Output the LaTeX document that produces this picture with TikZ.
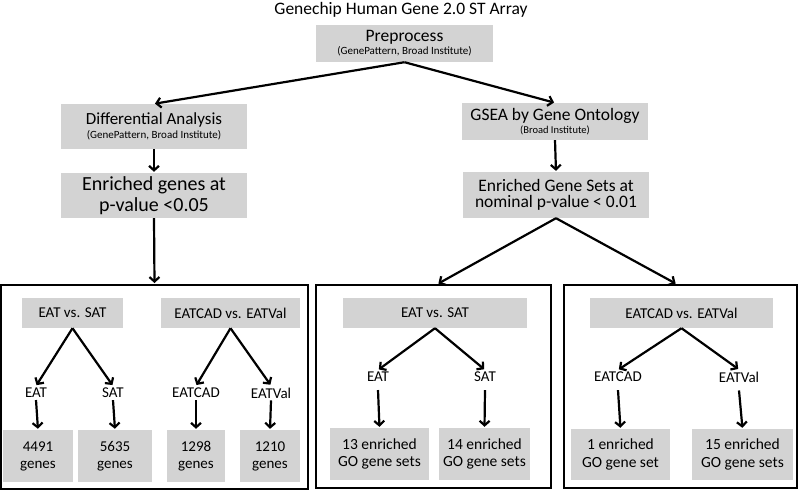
\documentclass[tikz,border=0pt]{standalone}
\usepackage{fontspec}
\setmainfont{Carlito}
\usetikzlibrary{arrows.meta}

\definecolor{boxgray}{RGB}{211,211,211}
\newcommand{\fs}[1]{\fontsize{#1}{#1}\selectfont}

\tikzset{
    graybox/.style={fill=boxgray, align=center, inner sep=0pt},
    bigframe/.style={draw, line width=2pt, inner sep=0pt},
    leaf/.style={inner sep=2pt, font=\fs{15}},
    link/.style={line width=2.2pt, shorten >=1pt, -{Straight Barb[length=4.5pt,width=10pt]}}
}

\begin{document}
\begin{tikzpicture}[x=1pt,y=-1pt]
    \useasboundingbox (0,0) rectangle (800,491);

    \node (title) at (401,10) {\fs{17.5}Genechip Human Gene 2.0 ST Array};
    \node[graybox, minimum width=177pt, minimum height=37pt] (pre) at (404.5,43.5)
        {\fs{17.5}Preprocess\\[1pt]\fs{11}(GenePattern, Broad Institute)};

    % left branch
    \node[graybox, minimum width=186pt, minimum height=45pt] (diff) at (154,126.5)
        {\fs{17}Differential Analysis\\[2pt]\fs{11}(GenePattern, Broad Institute)};
    \node[graybox, minimum width=186pt, minimum height=45pt] (genes) at (154,195.5)
        {\fs{20}Enriched genes at\\[3pt]\fs{20}p-value <0.05};

    % right branch
    \node[graybox, minimum width=186pt, minimum height=37pt] (gsea) at (555,121.5)
        {\fs{17.5}GSEA by Gene Ontology\\[1pt]\fs{10.5}(Broad Institute)};
    \node[graybox, minimum width=186pt, minimum height=46pt] (sets) at (556,195)
        {\fs{17.5}Enriched Gene Sets at\\[3pt]\fs{17.5}nominal p-value < 0.01};

    % frames
    \node[bigframe, minimum width=307pt, minimum height=204pt] (lframe) at (154.5,387) {};
    \node[bigframe, minimum width=235pt, minimum height=203pt] (mframe) at (433.5,386.5) {};
    \node[bigframe, minimum width=233pt, minimum height=203pt] (rframe) at (680.5,386.5) {};

    \draw[link] (pre.south) -- (diff.north);
    \draw[link] (pre.south) -- (gsea.north);
    \draw[link] (diff.south) -- (genes.north);
    \draw[link] (genes.south) -- (lframe.north);
    \draw[link] (gsea.south) -- (sets.north);
    \draw[link] (sets.south) -- ([xshift=4pt]mframe.north);
    \draw[link] (sets.south) -- ([xshift=-4pt]rframe.north);

    % left frame
    \node[graybox, minimum width=101pt, minimum height=30pt, font=\fs{15}] (ca) at (72.5,313) {EAT vs. SAT};
    \node[graybox, minimum width=139pt, minimum height=30pt, font=\fs{15}] (cb) at (230.5,313) {EATCAD vs. EATVal};
    \node[leaf] (la) at (36,393) {EAT};
    \node[leaf] (lb) at (113,393) {SAT};
    \node[leaf] (lc) at (196,393) {EATCAD};
    \node[leaf] (ld) at (271,393) {EATVal};
    \node[graybox, minimum width=70pt, minimum height=52pt, font=\fs{15}] (na) at (38,456) {4491\\[2pt]genes};
    \node[graybox, minimum width=74pt, minimum height=52pt, font=\fs{15}] (nb) at (115,456) {5635\\[2pt]genes};
    \node[graybox, minimum width=58pt, minimum height=52pt, font=\fs{15}] (nc) at (196,456) {1298\\[2pt]genes};
    \node[graybox, minimum width=60pt, minimum height=52pt, font=\fs{15}] (nd) at (270,456) {1210\\[2pt]genes};
    \draw[link] (ca.south) -- (la.north);
    \draw[link] (ca.south) -- (lb.north);
    \draw[link] (cb.south) -- (lc.north);
    \draw[link] (cb.south) -- (ld.north);
    \foreach \a/\b in {la/na, lb/nb, lc/nc, ld/nd}
        \draw[link] (\a.south) -- (\b.north);

    % middle frame
    \node[graybox, minimum width=184pt, minimum height=30pt, font=\fs{15}] (cc) at (435,313) {EAT vs. SAT};
    \node[leaf] (le) at (378,377) {EAT};
    \node[leaf] (lf) at (485,377) {SAT};
    \node[graybox, minimum width=99pt, minimum height=52pt, font=\fs{15.5}] (ga) at (379.5,454) {13 enriched\\[2pt]GO gene sets};
    \node[graybox, minimum width=91pt, minimum height=52pt, font=\fs{15.5}] (gb) at (484.5,454) {14 enriched\\[2pt]GO gene sets};
    \draw[link] (cc.south) -- (le.north);
    \draw[link] (cc.south) -- (lf.north);
    \draw[link] ([yshift=-6pt]le.south) -- (ga.north);
    \draw[link] ([yshift=-6pt]lf.south) -- (gb.north);

    % right frame
    \node[graybox, minimum width=183pt, minimum height=30pt, font=\fs{15}] (cd) at (681.5,313) {EATCAD vs. EATVal};
    \node[leaf] (lg) at (618,377) {EATCAD};
    \node[leaf] (lh) at (739,377) {EATVal};
    \node[graybox, minimum width=99pt, minimum height=51pt, font=\fs{15.5}] (gc) at (620.5,454.5) {1 enriched\\[2pt]GO gene set};
    \node[graybox, minimum width=101pt, minimum height=51pt, font=\fs{15.5}] (gd) at (742.5,454.5) {15 enriched\\[2pt]GO gene sets};
    \draw[link] (cd.south) -- (lg.north);
    \draw[link] (cd.south) -- (lh.north);
    \draw[link] ([yshift=-6pt]lg.south) -- (gc.north);
    \draw[link] ([yshift=-6pt]lh.south) -- (gd.north);
\end{tikzpicture}
\end{document}
